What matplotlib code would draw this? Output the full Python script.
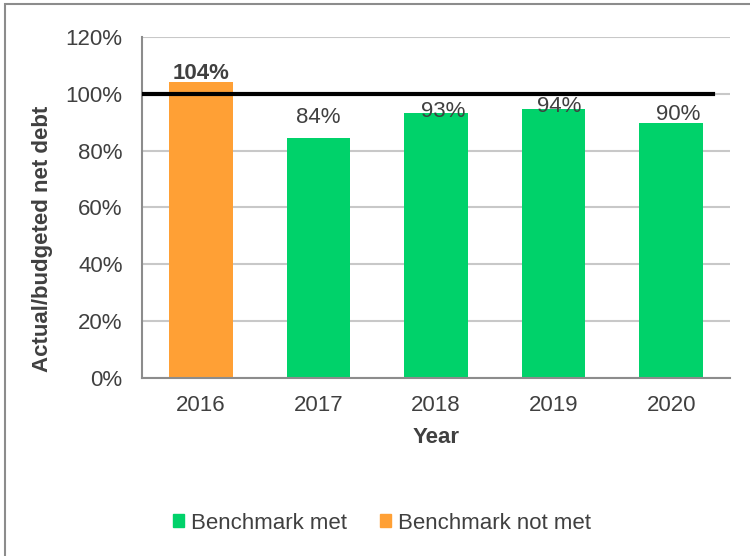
"""
Actual vs budgeted net debt, 2016-2020, with the 100% benchmark line.
"""

import matplotlib
matplotlib.use('Agg')
import matplotlib.pyplot as plt
from matplotlib.patches import Patch, Rectangle


YEARS = ['2016', '2017', '2018', '2019', '2020']
RATIO = [104.3, 84.6, 93.4, 94.6, 89.8]
LABELS = ['104%', '84%', '93%', '94%', '90%']
MET = [False, True, True, True, True]
BENCHMARK = 100

GREEN = '#00d26a'
ORANGE = '#ffa035'
TEXT = '#404040'

# label offsets in pixels (dx, dy) from bar top, as placed in the original
LABEL_OFFSETS = [(0, -2.5), (0, 9.5), (7, -9), (6, -8), (7, -2)]


def main():
    plt.rcParams['font.family'] = ['Liberation Sans', 'DejaVu Sans']

    fig = plt.figure(figsize=(7.5, 5.56), dpi=100)
    ax = fig.add_axes([0.1893, 0.3201, 0.784, 0.6134])

    # outer chart border
    fig.patches.append(Rectangle(
        (5 / 750, -0.05), 1.2, 1 - 4 / 556 + 0.05,
        transform=fig.transFigure, fill=False,
        edgecolor='#8c8c8c', linewidth=1.5
    ))

    x = range(len(YEARS))
    colors = [GREEN if m else ORANGE for m in MET]
    ax.bar(x, RATIO, width=0.54, color=colors, zorder=2)

    ax.axhline(BENCHMARK, xmin=0, xmax=0.971, color='black', linewidth=3, zorder=3)

    for i, (v, lab) in enumerate(zip(RATIO, LABELS)):
        dx, dy = LABEL_OFFSETS[i]
        ax.annotate(
            lab, (i, v), xytext=(dx * 0.72, dy * 0.72), textcoords='offset points',
            ha='center', va='bottom', fontsize=16, color=TEXT,
            fontweight='bold' if not MET[i] else 'normal', zorder=4
        )

    ax.set_xlim(-0.5, len(YEARS) - 0.5)
    ax.set_ylim(0, 120)
    ax.set_yticks(range(0, 121, 20))
    ax.set_yticklabels([f'{t}%' for t in range(0, 121, 20)])
    ax.set_xticks(list(x))
    ax.set_xticklabels(YEARS)
    ax.tick_params(axis='both', length=0, labelsize=16, labelcolor=TEXT)
    ax.tick_params(axis='y', pad=14)
    ax.tick_params(axis='x', pad=12)

    ax.grid(True, axis='y', color='#c8c8c8', linewidth=1.5, zorder=0)
    ax.set_axisbelow(True)
    for side in ['top', 'right']:
        ax.spines[side].set_visible(False)
    for side in ['left', 'bottom']:
        ax.spines[side].set_color('#8c8c8c')
        ax.spines[side].set_linewidth(1.5)

    ax.set_xlabel('Year', fontsize=16, fontweight='bold', color=TEXT, labelpad=8)
    ax.set_ylabel('Actual/budgeted net debt', fontsize=16, fontweight='bold',
                  color=TEXT, labelpad=9)
    ax.yaxis.label.set_y(0.408)

    handles = [Patch(color=GREEN, label='Benchmark met'),
               Patch(color=ORANGE, label='Benchmark not met')]
    fig.legend(handles=handles, loc='center', bbox_to_anchor=(0.509, 0.059),
               ncol=2, frameon=False, fontsize=16, labelcolor=TEXT,
               handlelength=0.5, handleheight=0.5, handletextpad=0.3,
               columnspacing=1.5)

    fig.savefig('out.png', dpi=100)


if __name__ == '__main__':
    main()
